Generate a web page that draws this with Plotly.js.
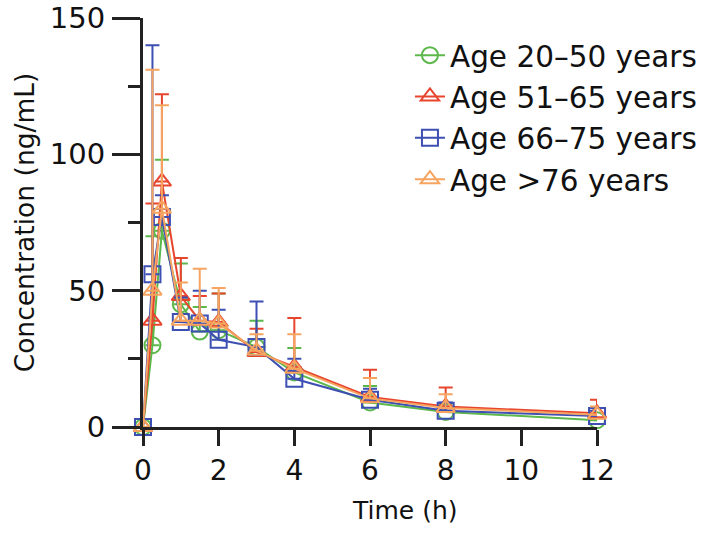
<!DOCTYPE html>
<html>
<head>
<meta charset="utf-8">
<script src="https://cdn.plot.ly/plotly-3.0.1.min.js"></script>
<style>html,body{margin:0;padding:0;background:#fff;}#chart{width:714px;height:533px;}</style>
</head>
<body>
<div id="chart"></div>
<script>
const time = [0, 0.25, 0.5, 1, 1.5, 2, 3, 4, 6, 8, 12];
const seriesNames = ["Age 20\u201350 years", "Age 51\u201365 years", "Age 66\u201375 years", "Age >76 years"];
const green = [0, 30, 72, 45, 35, 35.5, 29.3, 20, 9, 5.5, 2.5];
const greenErr = [0, 40, 26, 15, 9, 13.5, 9.7, 9, 6, 3, 2];
const red = [0, 39, 90, 48, 39, 38.5, 27.5, 22, 11, 7.5, 5];
const redErr = [0, 43, 32, 14, 9, 10.5, 8.5, 18, 10, 7, 5];
const blue = [0, 56, 77, 38.5, 38, 32, 29.3, 17.7, 10, 6, 4];
const blueErr = [0, 84, 8, 9, 12, 11, 16.7, 7.3, 4, 3, 2];
const orange = [0, 50, 80, 39, 39, 38, 28, 21.4, 10.5, 7, 4.5];
const orangeErr = [0, 81, 38, 14, 19, 13, 6, 12.6, 7.5, 5, 3];
const xTicks = [0, 2, 4, 6, 8, 10, 12];
const yTicks = [0, 50, 100, 150];
const yMinorTicks = [25, 75, 125];

const colors = ["#5cb84a", "#e8452e", "#3d4fb3", "#f6a45f"];
const symbols = ["circle-open", "triangle-up-open", "square-open", "triangle-up-open"];
const ys = [green, red, blue, orange];
const errs = [greenErr, redErr, blueErr, orangeErr];

const traces = ys.map((y, i) => ({
  type: "scatter",
  mode: "lines+markers",
  name: seriesNames[i],
  legendgroup: "g" + i,
  x: time,
  y: y,
  cliponaxis: false,
  line: {color: colors[i], width: 2},
  marker: {symbol: symbols[i], size: 16, color: colors[i], line: {width: 2, color: colors[i]}},
  error_y: {type: "data", array: errs[i], arrayminus: errs[i].map(() => 0), symmetric: false, color: colors[i], thickness: 2, width: 7}
}));

const font = "DejaVu Sans, Arial, sans-serif";
const layout = {
  width: 714, height: 533,
  margin: {l: 143, r: 117, t: 18, b: 106},
  paper_bgcolor: "#fff", plot_bgcolor: "#fff",
  showlegend: true,
  legend: {x: 0.588, y: 0.972, xanchor: "left", yanchor: "top", font: {family: font, size: 29.5, color: "#111"}, bgcolor: "rgba(0,0,0,0)", tracegroupgap: 0, itemclick: false},
  xaxis: {
    range: [0, 12], tickvals: xTicks, ticks: "outside", ticklen: 16, tickwidth: 3, tickcolor: "#222",
    showline: true, linecolor: "#222", linewidth: 3, showgrid: false, zeroline: false,
    tickfont: {family: font, size: 28, color: "#111"}
  },
  yaxis: {
    range: [0, 150], tickvals: yTicks, ticks: "outside", ticklen: 28, tickwidth: 3, tickcolor: "#222",
    showline: true, linecolor: "#222", linewidth: 3, showgrid: false, zeroline: false,
    ticklabelstandoff: 1,
    minor: {tickvals: yMinorTicks, ticks: "outside", ticklen: 12, tickwidth: 3, tickcolor: "#222"},
    tickfont: {family: font, size: 29, color: "#111"},
    title: {text: "Concentration (ng/mL)", font: {family: font, size: 26.5, color: "#111"}, standoff: 8}
  },
  annotations: [{text: "Time (h)", xref: "paper", yref: "paper", x: 0.577, y: -0.205, xanchor: "center", yanchor: "middle", showarrow: false, font: {family: font, size: 25, color: "#111"}}]
};
Plotly.newPlot("chart", traces, layout, {displayModeBar: false, staticPlot: true});
</script>
</body>
</html>
